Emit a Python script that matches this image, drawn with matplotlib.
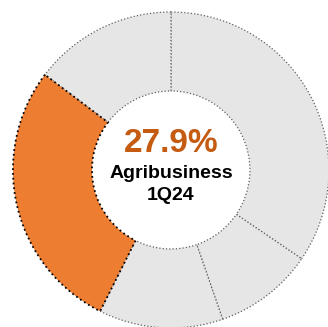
import matplotlib.pyplot as plt

# share of each segment, clockwise from the top
segments = ["Other A", "Other B", "Other C", "Agribusiness", "Other D"]
shares = [34.5, 10.2, 12.7, 27.9, 14.7]
highlight = "Agribusiness"
period = "1Q24"

gray = "#E6E6E6"
orange = "#ED7D31"

fig = plt.figure(figsize=(3.28, 3.27), dpi=100)
ax = fig.add_axes([0, 0, 1, 1])

colors = [orange if s == highlight else gray for s in segments]
wedges, _ = ax.pie(shares, colors=colors, startangle=90, counterclock=False,
                   radius=1.0, wedgeprops=dict(width=0.5, linewidth=0.9,
                                               linestyle=":", edgecolor="#606060"))
for w, s in zip(wedges, segments):
    if s == highlight:
        w.set_edgecolor("black")
        w.set_linewidth(1.3)
        w.set_zorder(3)

# donut is larger than the canvas and gets clipped at the right and bottom
ax.set_xlim(-1.082, 0.994)
ax.set_ylim(-0.994, 1.076)
ax.set_aspect("auto")
ax.axis("off")

value = shares[segments.index(highlight)]
ax.text(0, 0.17, f"{value}%", ha="center", va="center", fontsize=24,
        fontweight="bold", color="#C55A11", family="Liberation Sans")
ax.text(0, -0.02, highlight, ha="center", va="center", fontsize=14,
        fontweight="bold", color="black", family="Liberation Sans")
ax.text(0, -0.16, period, ha="center", va="center", fontsize=14,
        fontweight="bold", color="black", family="Liberation Sans")

fig.savefig("out.png", dpi=100)
